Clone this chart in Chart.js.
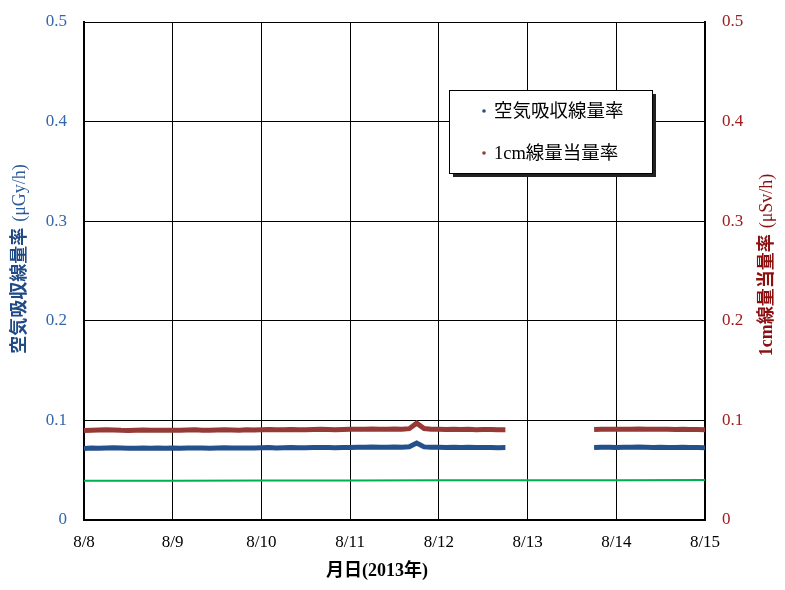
<!DOCTYPE html>
<html><head><meta charset="utf-8">
<script src="https://cdn.jsdelivr.net/npm/chart.js@4"></script>
<style>html,body{margin:0;padding:0;background:#fff}</style>
</head><body>
<canvas id="c" width="785" height="590"></canvas>
<script>
// ---- data ----
const dateLabels = ['8/8','8/9','8/10','8/11','8/12','8/13','8/14','8/15'];
const yTickLabels = ['0','0.1','0.2','0.3','0.4','0.5'];
const seriesNames = ['空気吸収線量率','1cm線量当量率'];
const xTitle = '月日(2013年)';
const leftTitleMain = '空気吸収線量率', leftTitleUnit = '(μGy/h)';
const rightTitleMain = '1cm線量当量率', rightTitleUnit = '(μSv/h)';
const sampleStepDays = 2/24;   // 2-hour samples
const seg1StartDay = 0;        // 8/8 00:00
const seg2StartDay = 5.75;     // 8/13 18:00
const gapDay = 5.25;

const airSeg1 = [
 0.0718,0.0722,0.0720,0.0723,0.0725,0.0722,0.0720,0.0721,0.0723,0.0720,0.0722,0.0721,
 0.0722,0.0720,0.0723,0.0724,0.0722,0.0721,0.0723,0.0725,0.0723,0.0722,0.0724,0.0723,
 0.0725,0.0727,0.0724,0.0726,0.0728,0.0726,0.0725,0.0727,0.0729,0.0727,0.0726,0.0728,
 0.0729,0.0731,0.0730,0.0732,0.0731,0.0730,0.0732,0.0731,0.0735,0.0773,0.0734,0.0731,
 0.0730,0.0729,0.0731,0.0728,0.0730,0.0727,0.0729,0.0728,0.0726,0.0727];
const airSeg2 = [0.0728,0.0730,0.0731,0.0729,0.0731,0.0730,0.0732,0.0730,0.0729,0.0731,0.0729,0.0728,0.0730,0.0728,0.0727,0.0726];

const doseSeg1 = [
 0.0898,0.0901,0.0903,0.0906,0.0903,0.0900,0.0899,0.0901,0.0903,0.0900,0.0902,0.0901,
 0.0901,0.0900,0.0903,0.0905,0.0902,0.0901,0.0903,0.0905,0.0904,0.0902,0.0905,0.0904,
 0.0906,0.0908,0.0905,0.0907,0.0909,0.0907,0.0906,0.0908,0.0910,0.0908,0.0907,0.0909,
 0.0910,0.0912,0.0911,0.0913,0.0912,0.0911,0.0913,0.0912,0.0917,0.0972,0.0918,0.0912,
 0.0910,0.0909,0.0911,0.0908,0.0910,0.0907,0.0909,0.0908,0.0906,0.0907];
const doseSeg2 = [0.0909,0.0911,0.0912,0.0910,0.0912,0.0911,0.0913,0.0911,0.0910,0.0912,0.0910,0.0909,0.0911,0.0909,0.0908,0.0907];

const baseDays = [0,1,2,3,4,5,6,7];
const baseValues = [0.0394,0.0395,0.0396,0.0397,0.0398,0.0399,0.0400,0.0401];

// ---- build ----
function pts(start, vals){ return vals.map((v,i)=>({x:start+i*sampleStepDays, y:v})); }
const airData = [...pts(seg1StartDay, airSeg1), {x:gapDay,y:null}, ...pts(seg2StartDay, airSeg2)];
const doseData = [...pts(seg1StartDay, doseSeg1), {x:gapDay,y:null}, ...pts(seg2StartDay, doseSeg2)];
const baseData = baseDays.map((d,i)=>({x:d,y:baseValues[i]}));

const BLUE='#24508c', RED='#963a37', GREEN='#00b050';
const serif = '"Liberation Serif","Noto Sans CJK JP",serif';

function drawVerticalTitle(ctx, cx, cy, parts){
  const gap = 6;
  const widths = parts.map(p=>{ ctx.font = p[1]; return ctx.measureText(p[0]).width; });
  const total = widths.reduce((a,b)=>a+b,0) + gap*(parts.length-1);
  ctx.save();
  ctx.translate(cx, cy);
  ctx.rotate(-Math.PI/2);
  ctx.textBaseline = 'middle';
  ctx.textAlign = 'left';
  let x = -total/2;
  parts.forEach((p,i)=>{
    ctx.font = p[1]; ctx.fillStyle = p[2];
    ctx.fillText(p[0], x, 0);
    x += widths[i] + gap;
  });
  ctx.restore();
}

const legendPlugin = {
  id:'boxLegend',
  afterDraw(chart){
    const ctx = chart.ctx;
    ctx.save();
    ctx.fillStyle = '#222';
    ctx.fillRect(453, 94, 203, 83);
    ctx.fillStyle = '#fff';
    ctx.fillRect(449, 90, 203, 83);
    ctx.strokeStyle = '#000'; ctx.lineWidth = 1;
    ctx.strokeRect(449.5, 90.5, 203, 83);
    const items = [[BLUE,111],[RED,153]];
    ctx.font = '18.5px ' + serif;
    ctx.textBaseline = 'middle';
    items.forEach(([c,y],i)=>{
      ctx.fillStyle = c;
      ctx.beginPath(); ctx.arc(484, y, 1.8, 0, Math.PI*2); ctx.fill();
      ctx.fillStyle = '#000';
      ctx.fillText(seriesNames[i], 494, y+1);
    });
    ctx.font = 'bold 18px ' + serif;
    ctx.textAlign = 'center';
    ctx.fillText(xTitle, 377, 571);
    ctx.restore();
    drawVerticalTitle(ctx, 20, 259, [
      [leftTitleMain, 'bold 18px ' + serif, '#1f4a86'],
      [leftTitleUnit, '18px ' + serif, '#2a5a9a']
    ]);
    drawVerticalTitle(ctx, 767, 265, [
      [rightTitleMain, 'bold 18px ' + serif, '#8b1010'],
      [rightTitleUnit, '18px ' + serif, '#8b1010']
    ]);
  }
};

new Chart(document.getElementById('c'), {
  type:'line',
  data:{datasets:[
    {label:seriesNames[0], data:airData, borderColor:BLUE, backgroundColor:BLUE, borderWidth:5, pointRadius:0, yAxisID:'y', spanGaps:false, order:2},
    {label:seriesNames[1], data:doseData, borderColor:RED, backgroundColor:RED, borderWidth:5, pointRadius:0, yAxisID:'y2', spanGaps:false, order:1},
    {label:'', data:baseData, borderColor:GREEN, borderWidth:2, pointRadius:0, yAxisID:'y', order:3}
  ]},
  options:{
    responsive:false, animation:false,
    layout:{padding:{top:0,left:0,right:0,bottom:0}},
    plugins:{legend:{display:false}, tooltip:{enabled:false}},
    scales:{
      x:{type:'linear', min:0, max:7,
        afterFit(s){ s.height = 70; },
        ticks:{stepSize:1, autoSkip:false, maxRotation:0, padding:12, color:'#000', font:{family:serif,size:17},
          callback:(v)=>dateLabels[v]},
        grid:{color:'#000', lineWidth:1, drawTicks:false},
        border:{color:'#000', width:2}
      },
      y:{position:'left', min:0, max:0.5,
        afterFit(s){ s.width = 84; s.paddingTop = 22; s.paddingBottom = 0; },
        ticks:{stepSize:0.1, padding:17, color:'#3366aa', font:{family:serif,size:17},
          callback:(v,i)=>yTickLabels[i]},
        grid:{color:'#000', lineWidth:1, drawTicks:false},
        border:{color:'#000', width:2}
      },
      y2:{position:'right', min:0, max:0.5,
        afterFit(s){ s.width = 80; s.paddingTop = 22; s.paddingBottom = 0; },
        ticks:{stepSize:0.1, padding:17, color:'#a01c1c', font:{family:serif,size:17},
          callback:(v,i)=>yTickLabels[i]},
        grid:{display:false, drawTicks:false},
        border:{color:'#000', width:2}
      }
    }
  },
  plugins:[legendPlugin]
});
</script>
</body></html>
